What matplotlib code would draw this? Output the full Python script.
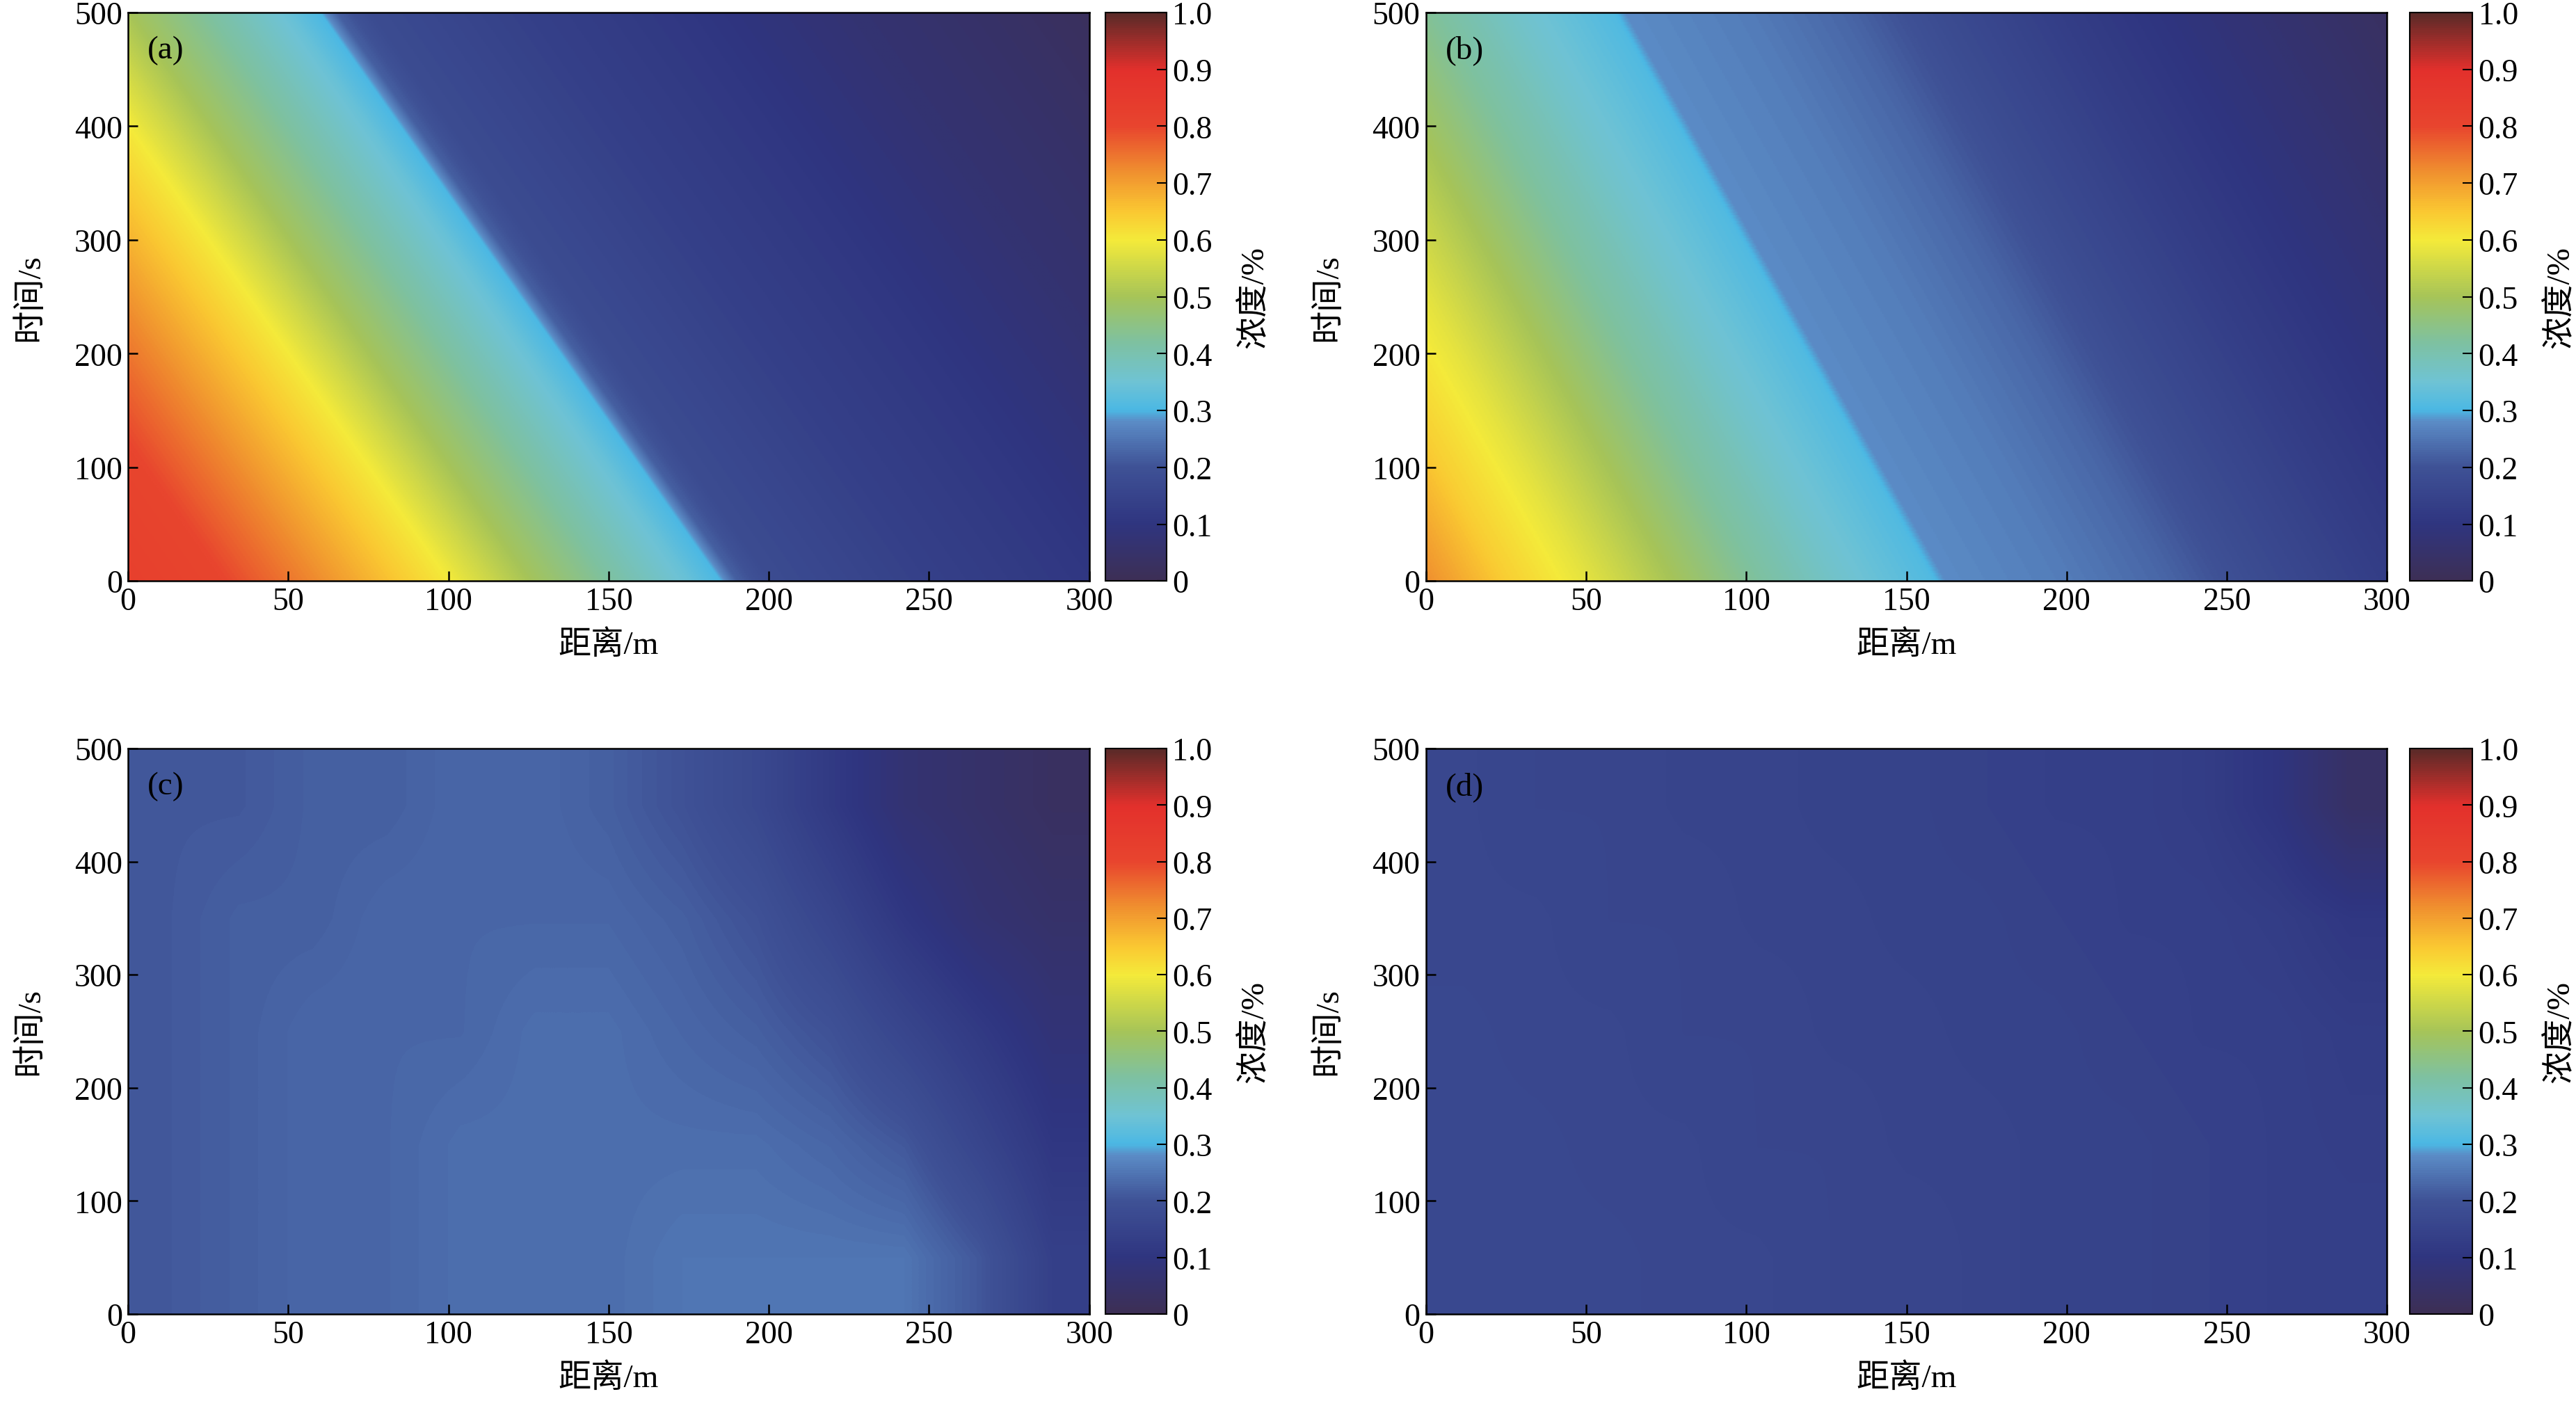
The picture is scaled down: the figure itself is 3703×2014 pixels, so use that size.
import numpy as np
import matplotlib
matplotlib.use("Agg")
import matplotlib.pyplot as plt
from matplotlib.colors import LinearSegmentedColormap

plt.rcParams['font.family'] = ['Liberation Serif', 'Noto Sans CJK SC', 'DejaVu Sans']
plt.rcParams['font.size'] = 34

# Panels (a),(b): concentration profiles along the travelling coordinate s = x + k*t
prof_a_s = [0, 30, 60, 80, 100, 125, 150, 175, 185, 190, 200, 250, 300, 350, 400, 425]
prof_a_v = [0.82, 0.80, 0.72, 0.66, 0.60, 0.50, 0.42, 0.34, 0.30, 0.22, 0.18, 0.14, 0.11, 0.07, 0.04, 0.02]
k_a = 0.25
prof_b_s = [0, 25, 50, 100, 130, 158, 162, 200, 230, 260, 300, 350, 400]
prof_b_v = [0.72, 0.64, 0.58, 0.43, 0.36, 0.31, 0.28, 0.26, 0.23, 0.18, 0.13, 0.08, 0.03]
k_b = 0.2

# Panels (c),(d): coarse grids
x_grid = [0, 25, 50, 75, 100, 125, 150, 175, 200, 225, 250, 275, 300]
t_grid = [0, 125, 250, 375, 500]
conc_c = [
    [0.21, 0.22, 0.23, 0.23, 0.24, 0.24, 0.24, 0.25, 0.25, 0.25, 0.25, 0.21, 0.14],
    [0.21, 0.22, 0.23, 0.23, 0.24, 0.24, 0.24, 0.24, 0.24, 0.23, 0.21, 0.16, 0.11],
    [0.21, 0.22, 0.23, 0.23, 0.23, 0.24, 0.24, 0.23, 0.22, 0.20, 0.16, 0.12, 0.08],
    [0.21, 0.22, 0.22, 0.23, 0.23, 0.23, 0.23, 0.22, 0.20, 0.16, 0.11, 0.07, 0.05],
    [0.21, 0.21, 0.22, 0.22, 0.23, 0.23, 0.22, 0.20, 0.17, 0.12, 0.07, 0.05, 0.03],
]
conc_d = [
    [0.17, 0.17, 0.17, 0.165, 0.165, 0.16, 0.16, 0.155, 0.15, 0.15, 0.145, 0.14, 0.14],
    [0.17, 0.17, 0.165, 0.165, 0.16, 0.16, 0.155, 0.155, 0.15, 0.15, 0.145, 0.14, 0.135],
    [0.17, 0.165, 0.165, 0.16, 0.16, 0.155, 0.155, 0.15, 0.15, 0.145, 0.14, 0.14, 0.13],
    [0.165, 0.165, 0.16, 0.16, 0.155, 0.155, 0.15, 0.15, 0.145, 0.14, 0.14, 0.13, 0.11],
    [0.165, 0.16, 0.16, 0.155, 0.155, 0.15, 0.15, 0.145, 0.14, 0.14, 0.13, 0.10, 0.04],
]

xx, tt = np.meshgrid(np.linspace(0, 300, 601), np.linspace(0, 500, 501))
field_a = np.interp(xx + k_a * tt, prof_a_s, prof_a_v)
field_b = np.interp(xx + k_b * tt, prof_b_s, prof_b_v)
panels = [("(a)", field_a, 'antialiased'), ("(b)", field_b, 'antialiased'),
          ("(c)", np.array(conc_c), 'bilinear'), ("(d)", np.array(conc_d), 'bilinear')]

cmap = LinearSegmentedColormap.from_list("conc", [
    (0.0, "#3d2f55"), (0.1, "#2f3580"), (0.2, "#3f5296"), (0.28, "#5b8cc6"),
    (0.30, "#4bb8e4"), (0.35, "#6fc3d4"), (0.42, "#7ec1a0"), (0.5, "#a6c458"),
    (0.6, "#f4ea3a"), (0.65, "#fac832"), (0.72, "#f0902f"), (0.8, "#e8452e"),
    (0.9, "#e3302c"), (1.0, "#5a2a28")], N=256)

fig = plt.figure(figsize=(37.03, 20.15), dpi=100)
W, H = 1568, 853
rects = [(78, 8, 663, 354, 673, 710), (868, 8, 1453, 354, 1467, 1505),
         (78, 456, 663, 800, 673, 710), (868, 456, 1453, 800, 1467, 1505)]

for (lab, data, interp), (l, tp, r, b, cl, cr) in zip(panels, rects):
    ax = fig.add_axes([l / W, 1 - b / H, (r - l) / W, (b - tp) / H])
    im = ax.imshow(data, origin='lower', aspect='auto', cmap=cmap,
                   vmin=0, vmax=1, interpolation=interp,
                   extent=[0, 300, 0, 500])
    ax.set_xlim(0, 300); ax.set_ylim(0, 500)
    ax.set_xticks([0, 50, 100, 150, 200, 250, 300])
    ax.set_yticks([0, 100, 200, 300, 400, 500])
    ax.tick_params(direction='in', length=10, width=1.8, labelsize=33, pad=6)
    ax.set_xlabel("距离/m", fontsize=34, labelpad=14)
    ax.set_ylabel("时间/s", fontsize=34, labelpad=30)
    ax.text(0.02, 0.96, lab, transform=ax.transAxes, fontsize=34, va='top')
    for s in ax.spines.values():
        s.set_linewidth(1.8)
    cax = fig.add_axes([cl / W, 1 - b / H, (cr - cl) / W, (b - tp) / H])
    cb = fig.colorbar(im, cax=cax, ticks=np.arange(0, 1.01, 0.1))
    cb.ax.set_yticklabels(["0"] + [f"{v:.1f}" for v in np.arange(0.1, 1.01, 0.1)])
    cb.ax.tick_params(direction='in', length=10, width=1.5, labelsize=33, pad=6)
    cb.set_label("浓度/%", fontsize=34, labelpad=28)
    cb.outline.set_linewidth(1.5)

fig.savefig("out.png", dpi=100)
